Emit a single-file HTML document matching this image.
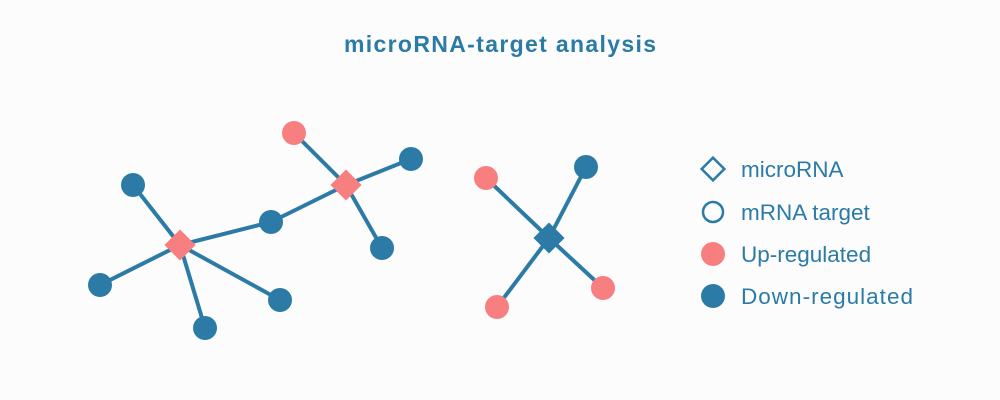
<!DOCTYPE html>
<html><head><meta charset="utf-8"><style>
body{margin:0;background:#fcfcfc;}
svg{display:block;font-family:"Liberation Sans",sans-serif;}
</style></head><body>
<svg id="c" width="1000" height="400" viewBox="0 0 1000 400">
<rect width="1000" height="400" fill="#fcfcfc"/>
<text x="500" y="52" text-anchor="middle" font-size="23" font-weight="bold" fill="#2b7ba6" textLength="312">microRNA-target analysis</text>
<g id="edges"></g>
<g id="nodes"></g>
<g>
<rect x="705" y="161" width="16" height="16" transform="rotate(45 713 169)" fill="none" stroke="#2b7ba6" stroke-width="2.5"/>
<text x="741" y="177" font-size="22.5" fill="#2b7ba6">microRNA</text>
<circle cx="713" cy="212" r="10" fill="none" stroke="#2b7ba6" stroke-width="2.5"/>
<text x="741" y="220" font-size="22.5" fill="#2b7ba6">mRNA target</text>
<circle cx="713" cy="254" r="12" fill="#f77f7f"/>
<text x="741" y="262" font-size="22.5" fill="#2b7ba6">Up-regulated</text>
<circle cx="713" cy="296" r="12" fill="#2b7ba6"/>
<text x="741" y="304" font-size="22.5" fill="#2b7ba6" textLength="172">Down-regulated</text>
</g>
</svg>
<script>
const nodeX = [180,346,549,133,100,205,280,271,294,411,382,486,586,497,603];
const nodeY = [245,185,238,185,285,328,300,222,133,159,248,178,167,307,288];
const nodeType = ['mirna','mirna','mirna','mrna','mrna','mrna','mrna','mrna','mrna','mrna','mrna','mrna','mrna','mrna','mrna'];
const nodeReg = ['up','up','down','down','down','down','down','down','up','down','down','up','down','up','up'];
const edgeFrom = [0,0,0,0,0,7,1,1,1,2,2,2,2];
const edgeTo = [3,4,5,6,7,1,8,9,10,11,12,13,14];
const NS='http://www.w3.org/2000/svg';
const color = r => r==='up' ? '#f77f7f' : '#2b7ba6';
const eg=document.getElementById('edges'), ng=document.getElementById('nodes');
for(let i=0;i<edgeFrom.length;i++){
  const l=document.createElementNS(NS,'line');
  l.setAttribute('x1',nodeX[edgeFrom[i]]);l.setAttribute('y1',nodeY[edgeFrom[i]]);
  l.setAttribute('x2',nodeX[edgeTo[i]]);l.setAttribute('y2',nodeY[edgeTo[i]]);
  l.setAttribute('stroke','#2b7ba6');l.setAttribute('stroke-width','4');
  
  
  eg.appendChild(l);
}
for(let i=0;i<nodeX.length;i++){
  let el;
  if(nodeType[i]==='mirna'){
    el=document.createElementNS(NS,'rect');
    el.setAttribute('x',nodeX[i]-11);el.setAttribute('y',nodeY[i]-11);
    el.setAttribute('width',22);el.setAttribute('height',22);
    el.setAttribute('transform','rotate(45 '+nodeX[i]+' '+nodeY[i]+')');
    
  } else {
    el=document.createElementNS(NS,'circle');
    el.setAttribute('cx',nodeX[i]);el.setAttribute('cy',nodeY[i]);el.setAttribute('r',12);
    
  }
  el.setAttribute('fill',color(nodeReg[i]));
  
  ng.appendChild(el);
}
</script>
</body></html>
